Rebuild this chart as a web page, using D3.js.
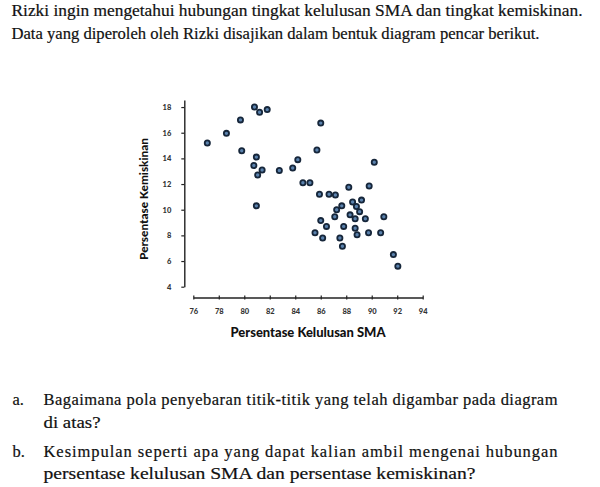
<!DOCTYPE html>
<html>
<head>
<meta charset="utf-8">
<script src="https://cdn.jsdelivr.net/npm/d3@7"></script>
<style>
  body { margin: 0; background: #fff; }
  svg { display: block; }
</style>
</head>
<body>
<div id="chart"></div>
<script>
// data
var kelulusan = [77.1, 78.6, 79.7, 79.8, 80.8, 81.2, 81.8, 80.95, 80.75, 81.4, 81.05, 82.75, 80.95,
  86.0, 85.7, 84.2, 83.8, 90.2, 84.6, 85.15, 88.2, 89.8, 85.9, 86.65, 87.15, 88.5, 89.2, 88.8,
  87.65, 87.25, 89.05, 88.3, 87.1, 88.7, 89.5, 90.95, 86.0, 86.45, 87.8, 88.7, 85.55, 88.85,
  89.75, 90.7, 86.15, 87.5, 87.7, 91.7, 92.05];
var kemiskinan = [15.2, 15.95, 17.0, 14.6, 18.0, 17.6, 17.8, 14.1, 13.45, 13.1, 12.7, 13.05, 10.3,
  16.75, 14.65, 13.9, 13.25, 13.7, 12.1, 12.1, 11.75, 11.85, 11.2, 11.2, 11.15, 10.6, 10.75, 10.25,
  10.3, 10.0, 9.85, 9.6, 9.45, 9.3, 9.3, 9.45, 9.15, 8.7, 8.7, 8.55, 8.2, 8.05,
  8.2, 8.2, 7.8, 7.8, 7.15, 6.5, 5.6];
var xTicks = [76, 78, 80, 82, 84, 86, 88, 90, 92, 94];
var yTicks = [4, 6, 8, 10, 12, 14, 16, 18];
var xJudul = "Persentase Kelulusan SMA";
var yJudul = "Persentase Kemiskinan";
var teksAtas = [
  "Rizki ingin mengetahui hubungan tingkat kelulusan SMA dan tingkat kemiskinan.",
  "Data yang diperoleh oleh Rizki disajikan dalam bentuk diagram pencar berikut."
];
var soalLabel = ["a.", "b."];
var soalTeks = [
  ["Bagaimana pola penyebaran titik-titik yang telah digambar pada diagram", "di atas?"],
  ["Kesimpulan seperti apa yang dapat kalian ambil mengenai hubungan", "persentase kelulusan SMA dan persentase kemiskinan?"]
];

var width = 600, height = 487;
var serif = "'Liberation Serif', 'DejaVu Serif', serif";
var sans = "Lato, 'Open Sans', sans-serif";

var svg = d3.select("#chart").append("svg")
  .attr("width", width)
  .attr("height", height);

// serif text a bit heavier like the scan
function teks(sel) {
  return sel.style("font-family", serif).style("font-size", "16.5px")
    .style("fill", "#111").style("stroke", "#111").style("stroke-width", 0.2);
}

// top paragraph
var atasY = [15.5, 39];
var atasLen = [571, 528];
teks(svg.selectAll("text.atas").data(teksAtas).enter().append("text")
  .attr("class", "atas")
  .attr("x", 11.5)
  .attr("y", function(d, i) { return atasY[i]; })
  .attr("textLength", function(d, i) { return atasLen[i]; })
  .attr("lengthAdjust", "spacingAndGlyphs"))
  .text(function(d) { return d; });

// scales
var x = d3.scaleLinear().domain([76, 94]).range([193.3, 422.7]);
var y = d3.scaleLinear().domain([4, 18.55]).range([286.7, 100]);

// x axis
var gx = svg.append("g")
  .attr("transform", "translate(0,297.5)")
  .call(d3.axisBottom(x).tickValues(xTicks).tickSize(4).tickSizeOuter(0).tickPadding(7));
gx.select(".domain").attr("stroke", "#222").attr("stroke-width", 1.4);
gx.selectAll(".tick line").attr("y1", -2).attr("y2", 2).attr("stroke", "#222").attr("stroke-width", 1.2);
gx.selectAll(".tick text")
  .style("font-family", sans).style("font-size", "7.5px").style("font-weight", "900")
  .style("fill", "#333");

// y axis
var gy = svg.append("g")
  .attr("transform", "translate(184.3,0)")
  .call(d3.axisLeft(y).tickValues(yTicks).tickSize(3).tickSizeOuter(0).tickPadding(10));
gy.select(".domain").attr("stroke", "#222").attr("stroke-width", 1.4);
gy.selectAll(".tick line").attr("stroke", "#222").attr("stroke-width", 1.2);
gy.selectAll(".tick text")
  .style("font-family", sans).style("font-size", "7.5px").style("font-weight", "900")
  .style("fill", "#333");

// axis titles
svg.append("text")
  .attr("x", 308).attr("y", 336.7)
  .attr("text-anchor", "middle")
  .attr("textLength", 155).attr("lengthAdjust", "spacingAndGlyphs")
  .style("font-family", sans).style("font-size", "13px").style("font-weight", "900")
  .style("fill", "#111")
  .text(xJudul);

svg.append("text")
  .attr("transform", "translate(147.5,199) rotate(-90)")
  .attr("text-anchor", "middle")
  .attr("textLength", 122).attr("lengthAdjust", "spacingAndGlyphs")
  .style("font-family", sans).style("font-size", "12px").style("font-weight", "900")
  .style("fill", "#111")
  .text(yJudul);

// points
var titik = d3.range(kelulusan.length).map(function(i) {
  return { kl: kelulusan[i], km: kemiskinan[i] };
});
svg.append("g").selectAll("circle").data(titik).enter().append("circle")
  .attr("cx", function(d) { return x(d.kl); })
  .attr("cy", function(d) { return y(d.km); })
  .attr("r", 2.6)
  .attr("fill", "#5b82ad")
  .attr("stroke", "#16263a")
  .attr("stroke-width", 1.8);

// questions below
var barisY = [[405.3, 427.5], [456.5, 478.5]];
var barisLen = [[514, 57], [514, 432]];
soalTeks.forEach(function(baris, k) {
  teks(svg.append("text")
    .attr("x", 12.5).attr("y", barisY[k][0]))
    .text(soalLabel[k]);
  baris.forEach(function(t, j) {
    teks(svg.append("text")
      .attr("x", 43.5).attr("y", barisY[k][j])
      .attr("textLength", barisLen[k][j])
      .attr("lengthAdjust", j === 0 ? "spacing" : "spacingAndGlyphs"))
      .text(t);
  });
});
</script>
</body>
</html>
